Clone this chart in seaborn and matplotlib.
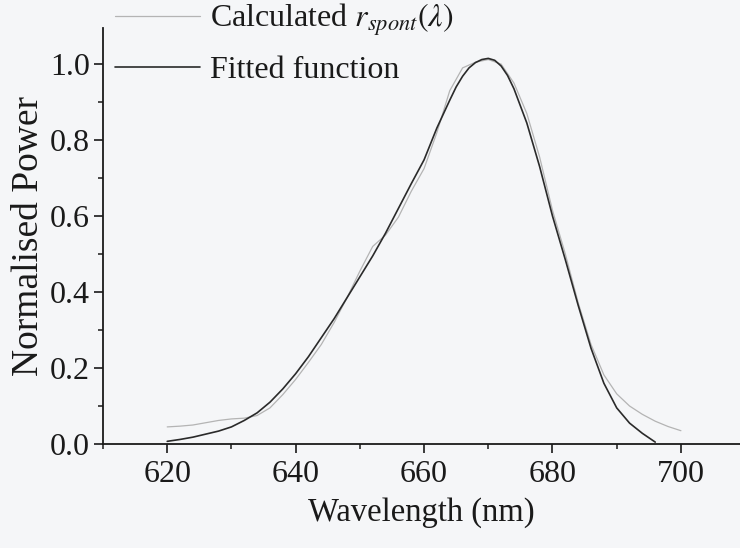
import numpy as np
import pandas as pd
import matplotlib
matplotlib.use("Agg")
import matplotlib.pyplot as plt
from matplotlib.ticker import MultipleLocator
import seaborn as sns

# ---- data ----
calc_wl = [620, 622, 624, 626, 628, 630, 632, 634, 636, 638, 640, 642, 644, 646,
           648, 650, 652, 654, 656, 658, 660, 662, 664, 666, 668, 670, 672, 674,
           676, 678, 680, 682, 684, 686, 688, 690, 692, 694, 696, 698, 700]
calc_pw = [0.045, 0.047, 0.050, 0.056, 0.062, 0.066, 0.068, 0.075, 0.095, 0.130,
           0.170, 0.215, 0.262, 0.320, 0.385, 0.455, 0.520, 0.550, 0.597, 0.665,
           0.725, 0.820, 0.930, 0.990, 1.005, 1.012, 1.000, 0.950, 0.870, 0.755,
           0.615, 0.500, 0.372, 0.262, 0.182, 0.132, 0.100, 0.078, 0.060, 0.046,
           0.035]

fit_wl = [620, 622, 624, 626, 628, 630, 632, 634, 636, 638, 640, 642, 644, 646,
          648, 650, 652, 654, 656, 658, 660, 662, 664, 665, 666, 667, 668, 669,
          670, 671, 672, 673, 674, 676, 678, 680, 682, 684, 686, 688, 690, 692,
          694, 696]
fit_pw = [0.007, 0.012, 0.018, 0.026, 0.034, 0.045, 0.062, 0.082, 0.110, 0.145,
          0.185, 0.230, 0.280, 0.330, 0.385, 0.440, 0.495, 0.555, 0.620, 0.685,
          0.748, 0.832, 0.905, 0.940, 0.968, 0.990, 1.004, 1.012, 1.015, 1.010,
          0.995, 0.970, 0.935, 0.845, 0.730, 0.600, 0.485, 0.365, 0.252, 0.160,
          0.095, 0.055, 0.028, 0.005]

x_ticks = [620, 640, 660, 680, 700]
y_ticks = [0.0, 0.2, 0.4, 0.6, 0.8, 1.0]

calc_label = r"Calculated $r_{spont}(\lambda)$"
fit_label = "Fitted function"

# ---- style ----
sns.set_theme(style="ticks")
plt.rcParams["font.family"] = ["Liberation Serif", "DejaVu Serif"]
plt.rcParams["mathtext.fontset"] = "stix"
bg = "#f5f6f8"

fig = plt.figure(figsize=(7.4, 5.48), dpi=100, facecolor=bg)
W, H = 740, 548
ax = fig.add_axes([103 / W, (H - 444) / H, 1 - 103 / W, (444 - 28) / H])
ax.set_facecolor(bg)

df_calc = pd.DataFrame({"wl": calc_wl, "pw": calc_pw})
df_fit = pd.DataFrame({"wl": fit_wl, "pw": fit_pw})

sns.lineplot(data=df_calc, x="wl", y="pw", ax=ax, color="#b4b4b4", lw=0.9,
             label=calc_label)
sns.lineplot(data=df_fit, x="wl", y="pw", ax=ax, color="#2a2a2a", lw=1.2,
             label=fit_label)

ax.set_xlim(610, 709.2)
ax.set_ylim(0, 1.095)
ax.set_xticks(x_ticks)
ax.set_yticks(y_ticks)
ax.set_xticklabels([str(v) for v in x_ticks])
ax.set_yticklabels([f"{v:.1f}" for v in y_ticks])
ax.xaxis.set_minor_locator(MultipleLocator(10))
ax.yaxis.set_minor_locator(MultipleLocator(0.1))

for s in ["top", "right"]:
    ax.spines[s].set_visible(False)
for s in ["left", "bottom"]:
    ax.spines[s].set_linewidth(1.3)
    ax.spines[s].set_color("#1a1a1a")

ax.tick_params(which="major", direction="out", length=6.5, width=1.2,
               labelsize=23, pad=3, colors="#1a1a1a")
ax.tick_params(which="minor", direction="out", length=3.6, width=1.1,
               colors="#1a1a1a")
ax.tick_params(axis="x", which="major", pad=5)

ax.set_xlabel("Wavelength (nm)", fontsize=23.5, color="#1a1a1a", labelpad=6)
ax.set_ylabel("Normalised Power", fontsize=27, color="#1a1a1a", labelpad=3)

ax.get_legend().remove()
handles, labels = ax.get_legend_handles_labels()
fig.legend(handles, labels, loc="upper left",
           bbox_to_anchor=(115 / W, 1 - 2 / H), frameon=False,
           fontsize=23, handlelength=2.66, handletextpad=0.3,
           borderpad=0, borderaxespad=0, labelspacing=0.54,
           labelcolor="#1a1a1a")

fig.savefig("out.png", dpi=100, facecolor=bg)
